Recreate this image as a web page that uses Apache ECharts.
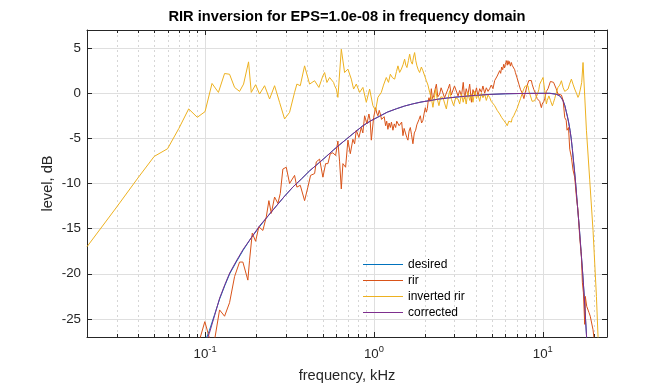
<!DOCTYPE html>
<html><head><meta charset="utf-8">
<script src="https://cdn.jsdelivr.net/npm/echarts@6/dist/echarts.min.js"></script>
<style>html,body{margin:0;padding:0;background:#fff}#c{width:672px;height:384px}</style>
</head><body><div id="c"></div>
<script>
const titleText = 'RIR inversion for EPS=1.0e-08 in frequency domain';
const xName = 'frequency, kHz';
const yName = 'level, dB';
const seriesNames = ['desired', 'rir', 'inverted rir', 'corrected'];
const seriesColors = ['#0072BD', '#D95319', '#EDB120', '#7E2F8E'];
const yTicks = [-25, -20, -15, -10, -5, 0, 5];
const minorFreqs = [0.03,0.04,0.05,0.06,0.07,0.08,0.09,0.2,0.3,0.4,0.5,0.6,0.7,0.8,0.9,2,3,4,5,6,7,8,9,20];

const desired = [
[0.09,-29.5],[0.1,-27.5],[0.106,-26.3],[0.114,-24.5],[0.122,-22.8],[0.131,-21.3],[0.14,-20.0],[0.153,-18.7],[0.168,-17.4],[0.188,-16.0],[0.21,-14.8],[0.236,-13.6],[0.264,-12.5],[0.296,-11.4],[0.331,-10.4],[0.372,-9.5],[0.416,-8.6],[0.467,-7.8],[0.523,-7.0],[0.575,-6.3],[0.627,-5.7],[0.686,-5.1],[0.75,-4.5],[0.861,-3.6],[0.96,-3.05],[1.08,-2.55],[1.2,-2.1],[1.36,-1.72],[1.52,-1.42],[1.7,-1.18],[1.9,-0.98],[2.14,-0.82],[2.4,-0.66],[2.7,-0.54],[3.22,-0.4],[4.0,-0.25],[4.85,-0.14],[6.0,-0.07],[7.5,-0.03],[9.0,-0.01],[11,0],[12,-0.1],[12.5,-0.25],[12.9,-0.5],[13.2,-0.85],[13.5,-1.35],[13.76,-2.0],[14.0,-2.6],[14.25,-3.3],[14.5,-4.1],[14.73,-5.0],[14.95,-6.1],[15.2,-7.5],[15.43,-8.7],[15.66,-10.0],[16.05,-12.5],[16.47,-15.0],[16.85,-17.5],[17.24,-20.0],[17.6,-22.5],[17.91,-25.0],[18.5,-29.5]
];

const rir = [
[0.088,-30],[0.0932,-27.2],[0.0997,-25.3],[0.105,-26.8],[0.1112,-28.5],[0.1219,-24.0],[0.1305,-24.7],[0.1397,-23.2],[0.1496,-20.3],[0.1601,-18.7],[0.1675,-18.7],[0.1793,-20.7],[0.1835,-18.5],[0.1904,-15.5],[0.1992,-16.4],[0.2083,-14.8],[0.22,-15.2],[0.2305,-13.7],[0.2388,-11.9],[0.2468,-13.3],[0.2581,-11.5],[0.27,-12.2],[0.279,-11.1],[0.289,-8.4],[0.3027,-8.2],[0.3167,-10.0],[0.339,-9.1],[0.3498,-10.4],[0.3664,-10.2],[0.3886,-11.9],[0.4064,-10.4],[0.4217,-9.1],[0.4454,-8.9],[0.4559,-7.6],[0.4768,-7.3],[0.4988,-9.3],[0.5176,-7.8],[0.534,-7.8],[0.5466,-8.0],[0.5518,-6.7],[0.5717,-6.6],[0.5931,-6.9],[0.612,-5.3],[0.6264,-7.6],[0.6411,-10.6],[0.6553,-7.8],[0.6797,-8.2],[0.7015,-5.2],[0.7248,-6.7],[0.7509,-5.1],[0.7685,-5.6],[0.7865,-4.1],[0.8149,-4.9],[0.8421,-3.8],[0.86,-4.4],[0.8809,-2.5],[0.9089,-3.4],[0.9341,-2.3],[0.95,-3.0],[0.9652,-5.2],[0.9959,-2.7],[1.023,-1.6],[1.04,-2.2],[1.056,-2.5],[1.075,-1.9],[1.091,-2.3],[1.11,-2.9],[1.131,-3.0],[1.15,-2.6],[1.173,-3.6],[1.19,-3.1],[1.21,-4.0],[1.23,-3.3],[1.251,-3.8],[1.27,-3.2],[1.296,-4.1],[1.32,-3.4],[1.345,-3.8],[1.365,-3.1],[1.388,-2.9],[1.41,-3.6],[1.434,-3.8],[1.46,-3.2],[1.486,-4.7],[1.51,-3.9],[1.541,-4.1],[1.565,-4.9],[1.59,-5.2],[1.615,-4.2],[1.643,-3.8],[1.67,-4.6],[1.702,-5.6],[1.735,-4.4],[1.766,-4.1],[1.795,-3.5],[1.823,-3.6],[1.85,-2.9],[1.883,-2.5],[1.915,-3.3],[1.951,-3.0],[1.985,-2.2],[2.016,-1.6],[2.045,-2.1],[2.072,-1.7],[2.095,-0.9],[2.118,-0.5],[2.15,-0.9],[2.188,0.5],[2.22,-0.6],[2.258,-0.3],[2.3,0.4],[2.343,1.0],[2.39,-0.4],[2.45,-0.1],[2.5,0.6],[2.563,0.8],[2.62,-0.5],[2.685,-0.3],[2.75,0.5],[2.809,1.0],[2.87,-0.2],[2.938,-0.1],[3.0,0.8],[3.077,0.6],[3.15,-0.3],[3.219,0.3],[3.3,-0.3],[3.38,1.2],[3.446,-0.6],[3.52,0.5],[3.6,-0.2],[3.69,1.0],[3.78,-1.0],[3.86,0.4],[3.951,-0.2],[4.05,0.6],[4.13,-0.3],[4.23,0.5],[4.33,0.1],[4.42,0.8],[4.528,0.0],[4.63,0.6],[4.74,0.2],[4.846,0.5],[4.95,0.9],[5.07,0.5],[5.189,1.4],[5.28,1.2],[5.37,1.9],[5.46,1.7],[5.556,2.5],[5.63,2.2],[5.71,2.9],[5.79,2.6],[5.867,3.2],[5.94,2.8],[6.0,3.2],[6.1,3.6],[6.16,3.1],[6.222,3.6],[6.29,3.2],[6.35,3.5],[6.43,3.0],[6.516,3.4],[6.58,3.1],[6.65,2.9],[6.73,3.0],[6.817,2.6],[6.88,2.3],[6.95,2.2],[7.04,1.7],[7.131,1.6],[7.22,1.0],[7.3,1.0],[7.38,0.4],[7.468,0.5],[7.56,0.0],[7.65,-0.2],[7.73,-0.6],[7.812,-0.5],[7.88,0.1],[7.95,0.3],[8.06,0.8],[8.172,1.0],[8.26,1.4],[8.35,1.5],[8.45,1.2],[8.56,1.4],[8.65,1.0],[8.75,0.9],[8.85,0.4],[8.954,0.5],[9.05,0.0],[9.15,-0.2],[9.26,-0.6],[9.367,-0.8],[9.47,-0.5],[9.586,-0.9],[9.7,-1.3],[9.81,-1.6],[9.92,-1.2],[10.03,-1.4],[10.15,-0.9],[10.26,-0.6],[10.38,-0.2],[10.5,0.2],[10.62,0.1],[10.74,0.5],[10.87,0.8],[10.99,1.0],[11.1,1.3],[11.24,1.4],[11.4,1.4],[11.58,1.2],[11.76,1.0],[12.0,0.5],[12.3,-0.1],[12.6,-0.1],[12.89,-0.2],[13.2,-0.8],[13.49,-2.7],[13.76,-3.0],[13.92,-4.1],[14.2,-3.8],[14.44,-6.2],[14.77,-7.1],[15.1,-8.5],[15.45,-9.3],[15.82,-11.5],[16.16,-13.0],[16.54,-15.9],[16.93,-18.1],[17.16,-21.0],[17.4,-22.1],[17.71,-25.6],[17.85,-22.5],[18.2,-23.6],[18.78,-24.3],[19.1,-24.7],[19.84,-26.2],[20.2,-27.5],[20.8,-30]
];

const invertedRir = [
[0.02,-17.0],[0.03,-12.6],[0.04,-9.4],[0.05,-7.0],[0.06,-6.15],[0.07,-3.9],[0.08,-1.74],[0.09,-2.67],[0.1,-2.04],[0.11,1.08],[0.12,0.09],[0.1305,2.18],[0.1397,2.1],[0.1496,0.64],[0.1601,0.2],[0.1691,1.01],[0.181,3.47],[0.1878,0.09],[0.1992,0.94],[0.2103,-0.09],[0.2252,0.83],[0.2411,-0.64],[0.2581,0.83],[0.2763,-1.01],[0.2958,-2.85],[0.3167,-2.12],[0.339,0.09],[0.3498,1.01],[0.3664,0.83],[0.3886,3.03],[0.416,1.01],[0.4454,1.38],[0.4723,0.64],[0.4988,1.93],[0.5105,2.29],[0.5268,1.19],[0.5466,1.74],[0.5772,1.19],[0.5851,0.83],[0.5989,0.46],[0.612,-0.46],[0.6411,4.87],[0.6706,2.29],[0.7015,2.67],[0.7347,1.56],[0.758,0.46],[0.7865,1.01],[0.8228,0.09],[0.8606,0.64],[0.9016,-1.01],[0.943,0.46],[0.9865,-1.38],[1.023,-1.93],[1.056,-0.46],[1.106,0.09],[1.14,0.9],[1.184,1.74],[1.22,1.2],[1.251,2.1],[1.29,1.7],[1.327,1.56],[1.36,2.4],[1.388,3.03],[1.42,2.3],[1.454,2.67],[1.49,3.2],[1.52,3.77],[1.545,3.1],[1.569,2.84],[1.6,3.6],[1.628,4.32],[1.66,3.5],[1.689,3.22],[1.715,4.0],[1.742,4.5],[1.77,3.6],[1.798,3.03],[1.83,2.6],[1.865,2.29],[1.91,2.9],[1.951,2.48],[2.0,1.9],[2.044,1.38],[2.09,0.9],[2.138,0.09],[2.19,-0.6],[2.236,-1.56],[2.28,-0.5],[2.32,0.46],[2.37,-0.6],[2.427,-1.38],[2.49,-0.4],[2.563,-0.46],[2.62,-1.1],[2.685,-1.74],[2.75,-0.6],[2.809,0.28],[2.88,-0.7],[2.966,-1.38],[3.05,-0.5],[3.145,-0.64],[3.22,-1.2],[3.3,-0.1],[3.38,-1.0],[3.446,-0.2],[3.52,-1.2],[3.6,0.1],[3.69,-0.8],[3.78,-0.1],[3.86,-1.0],[3.951,0.2],[4.05,-0.6],[4.13,-0.1],[4.23,-0.9],[4.33,0.0],[4.42,-0.5],[4.528,-0.1],[4.63,-0.8],[4.74,-0.2],[4.846,-0.46],[4.95,-0.9],[5.07,-0.8],[5.189,-1.38],[5.28,-1.3],[5.37,-1.9],[5.46,-1.8],[5.556,-2.3],[5.63,-2.2],[5.71,-2.7],[5.79,-2.6],[5.867,-3.0],[5.948,-2.9],[6.03,-3.3],[6.1,-3.2],[6.16,-3.6],[6.222,-3.58],[6.29,-3.1],[6.35,-3.3],[6.43,-3.0],[6.516,-3.2],[6.58,-2.8],[6.65,-2.9],[6.73,-2.5],[6.817,-2.48],[6.88,-2.1],[6.95,-2.0],[7.04,-1.7],[7.131,-1.56],[7.22,-1.1],[7.3,-1.0],[7.38,-0.6],[7.468,-0.46],[7.56,0.0],[7.65,0.1],[7.73,0.5],[7.812,0.46],[7.88,0.8],[7.95,0.6],[8.06,0.9],[8.172,0.83],[8.26,0.3],[8.35,0.0],[8.45,-0.3],[8.56,-0.46],[8.65,-0.9],[8.75,-0.7],[8.85,-1.0],[8.954,-0.83],[9.05,-0.6],[9.15,-0.4],[9.26,-0.2],[9.367,-0.09],[9.47,0.4],[9.586,1.0],[9.7,1.1],[9.81,1.38],[9.92,1.5],[10.03,1.74],[10.15,1.0],[10.26,0.3],[10.38,-0.5],[10.5,-1.19],[10.62,-0.8],[10.74,-0.6],[10.87,-0.3],[10.99,-0.5],[11.1,-0.8],[11.24,-1.0],[11.4,-1.4],[11.58,-1.0],[11.76,-0.6],[12.0,0.0],[12.3,0.64],[12.6,0.9],[12.89,1.38],[13.2,0.6],[13.49,0.2],[13.8,0.3],[14.11,0.46],[14.4,1.0],[14.77,1.56],[15.1,1.0],[15.45,0.46],[15.82,0.0],[16.16,-0.46],[16.4,-0.2],[16.7,0.46],[17.0,1.2],[17.31,3.4],[18.13,-4.1],[18.96,-9.6],[19.84,-15.2],[20.78,-22.5],[21.23,-26.9],[21.6,-31]
];

const corrected = [
[0.09,-29.9],[0.1,-27.8],[0.106,-26.6],[0.114,-24.6],[0.122,-22.7],[0.131,-21.2],[0.14,-19.9],[0.153,-18.6],[0.168,-17.3],[0.188,-16.0],[0.21,-14.7],[0.236,-13.6],[0.264,-12.5],[0.296,-11.4],[0.331,-10.4],[0.372,-9.5],[0.416,-8.6],[0.467,-7.8],[0.523,-7.0],[0.575,-6.3],[0.627,-5.7],[0.686,-5.1],[0.75,-4.5],[0.861,-3.6],[0.96,-3.05],[1.08,-2.55],[1.2,-2.1],[1.36,-1.72],[1.52,-1.42],[1.7,-1.18],[1.9,-0.98],[2.14,-0.82],[2.4,-0.66],[2.7,-0.54],[3.22,-0.38],[4.0,-0.24],[4.85,-0.13],[6.0,-0.06],[7.5,-0.03],[9.0,-0.02],[11,-0.02],[12,-0.12],[12.5,-0.27],[12.9,-0.52],[13.2,-0.87],[13.5,-1.38],[13.76,-2.03],[14.0,-2.63],[14.25,-3.33],[14.5,-4.13],[14.73,-5.03],[14.95,-6.13],[15.2,-7.53],[15.43,-8.73],[15.66,-10.03],[16.05,-12.53],[16.47,-15.03],[16.85,-17.53],[17.24,-20.03],[17.6,-22.53],[17.91,-25.03],[18.5,-29.5]
];

const seriesData = [desired, rir, invertedRir, corrected];
const FONT = '"Liberation Sans", Arial, Helvetica, sans-serif';
const AX = '#262626';

function logLabel(v) {
  const e = Math.log10(v);
  const r = Math.round(e);
  if (Math.abs(e - r) > 1e-6) return '';
  return '{b|10}{s|' + r + '}';
}

const chart = echarts.init(document.getElementById('c'), null, {renderer: 'canvas'});
const baseX = {
  type: 'log', logBase: 10, min: 0.02, max: 24,
  axisLine: {show: true, onZero: false, lineStyle: {color: AX, width: 1}},
  axisTick: {show: true, inside: true, length: 5, lineStyle: {color: AX, width: 1}},
  splitLine: {show: false}
};
const baseY = {
  type: 'value', min: -27, max: 7,
  axisLine: {show: true, onZero: false, lineStyle: {color: AX, width: 1}},
  axisTick: {show: true, inside: true, length: 5, customValues: yTicks, lineStyle: {color: AX, width: 1}},
  splitLine: {show: false}
};

const lineSeries = seriesNames.map((n, i) => ({
  type: 'line', name: n, data: seriesData[i], xAxisIndex: 0, yAxisIndex: 0,
  symbol: 'none', showSymbol: false, clip: true, z: 3,
  lineStyle: {color: seriesColors[i], width: 1},
  itemStyle: {color: seriesColors[i]},
  emphasis: {disabled: true}
}));

const option = {
  animation: false,
  backgroundColor: '#ffffff',
  graphic: [{
    type: 'text', x: 347, y: 17,
    style: {text: titleText, font: 'bold 14.67px ' + FONT, fill: '#000', textAlign: 'center', textVerticalAlign: 'middle'}
  }],
  grid: {left: 87, right: 65, top: 30, bottom: 47, containLabel: false, outerBoundsMode: 'none'},
  legend: {
    orient: 'vertical', left: 363, top: 258.5, padding: 0,
    itemWidth: 40, itemHeight: 1, itemGap: 4, icon: 'rect',
    data: seriesNames,
    textStyle: {fontSize: 12, color: '#000', fontFamily: FONT},
    selectedMode: false
  },
  xAxis: [
    Object.assign({}, baseX, {
      position: 'bottom',
      axisLabel: {formatter: logLabel, margin: 8, color: AX,
        rich: {b: {fontSize: 13.33, fontFamily: FONT, color: AX}, s: {fontSize: 9.33, fontFamily: FONT, color: AX, padding: [0, 0, 9, 0]}}},
      splitLine: {show: true, lineStyle: {color: '#dfdfdf', width: 1}},
      name: xName, nameLocation: 'middle', nameGap: 31,
      nameTextStyle: {fontSize: 14.67, color: AX, fontFamily: FONT}
    }),
    Object.assign({}, baseX, {position: 'top', axisLabel: {show: false}})
  ],
  yAxis: [
    Object.assign({}, baseY, {
      position: 'left',
      axisLabel: {customValues: yTicks, fontSize: 13.33, color: AX, fontFamily: FONT, margin: 6},
      splitLine: {show: true, lineStyle: {color: '#dfdfdf', width: 1}},
      name: yName, nameLocation: 'middle', nameGap: 32, nameMoveOverlap: false,
      nameTextStyle: {fontSize: 14.67, color: AX, fontFamily: FONT}
    }),
    Object.assign({}, baseY, {position: 'right', axisLabel: {show: false}})
  ],
  series: [{
    type: 'custom', name: 'minor grid', xAxisIndex: 0, yAxisIndex: 0, z: 1, silent: true,
    data: minorFreqs.map(f => [f, 0]), encode: {x: 0, y: 1},
    renderItem: function (params, api) {
      const f = api.value(0);
      const top = api.coord([f, 7]);
      const bot = api.coord([f, -27]);
      const x = Math.round(top[0]) + 0.5;
      return {type: 'group', children: [
        {type: 'line', shape: {x1: x, y1: top[1], x2: x, y2: bot[1]}, style: {stroke: '#d6d6d6', lineWidth: 1, lineDash: [2, 3]}},
        {type: 'line', shape: {x1: x, y1: bot[1], x2: x, y2: bot[1] - 3}, style: {stroke: AX, lineWidth: 1}},
        {type: 'line', shape: {x1: x, y1: top[1], x2: x, y2: top[1] + 3}, style: {stroke: AX, lineWidth: 1}}
      ]};
    }
  }].concat(lineSeries)
};
chart.setOption(option);
</script></body></html>
